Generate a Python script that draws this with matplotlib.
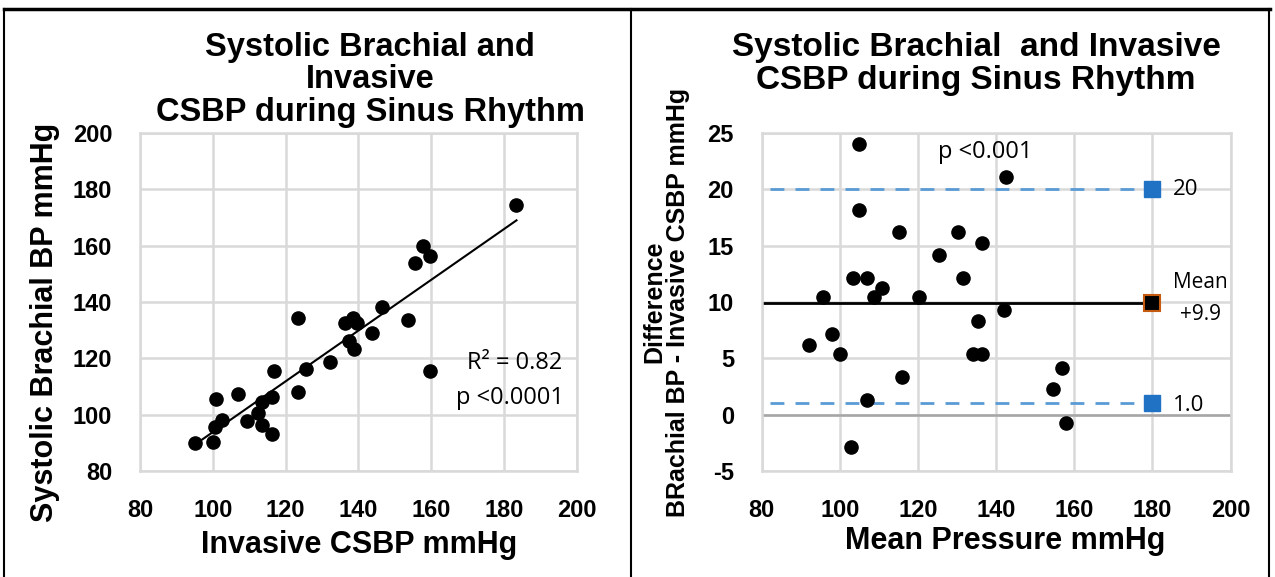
import matplotlib
matplotlib.use('Agg')
import matplotlib.pyplot as plt
import numpy as np
from matplotlib.lines import Line2D

plt.rcParams['font.family'] = ['Liberation Sans', 'DejaVu Sans']
plt.rcParams['axes.unicode_minus'] = False

# left panel: invasive CSBP vs brachial BP
csbp = [183.4, 157.8, 159.6, 155.6, 146.4, 153.7, 123.3, 136.3, 138.6, 139.5,
        143.8, 137.4, 138.8, 132.2, 125.5, 116.9, 159.6, 123.3, 107.0, 100.8,
        116.2, 113.4, 112.3, 102.4, 109.3, 100.6, 113.4, 116.2, 100.1, 95.1]
brachial = [174.4, 159.9, 156.3, 154.0, 138.1, 133.6, 134.2, 132.7, 134.2, 132.7,
            128.9, 126.3, 123.2, 118.8, 116.1, 115.5, 115.6, 108.2, 107.2, 105.6,
            106.2, 104.6, 100.5, 98.1, 97.9, 95.5, 96.3, 93.1, 90.4, 90.1]

# right panel: Bland-Altman
mean_p = [104.9, 142.5, 104.9, 115.2, 130.2, 136.3, 125.5, 103.3, 106.9, 131.4,
          110.9, 95.8, 108.8, 120.3, 142.1, 135.4, 98.1, 92.1, 100.0, 134.2,
          136.5, 156.9, 116.0, 154.5, 106.9, 157.8, 102.9]
diff = [24.0, 21.1, 18.2, 16.2, 16.2, 15.2, 14.2, 12.1, 12.1, 12.1,
        11.2, 10.4, 10.4, 10.4, 9.25, 8.3, 7.16, 6.22, 5.37, 5.37,
        5.37, 4.16, 3.34, 2.25, 1.28, -0.78, -2.83]
mean_diff = 9.9
upper_loa = 20
lower_loa = 1.0

x_ticks = [80, 100, 120, 140, 160, 180, 200]
left_yticks = [80, 100, 120, 140, 160, 180, 200]
right_yticks = [-5, 0, 5, 10, 15, 20, 25]

grid_c = '#d9d9d9'
blue = '#1f72c4'
W, H = 1275, 577

fig = plt.figure(figsize=(12.75, 5.77), dpi=100)
ax1 = fig.add_axes([0.1098, 0.1837, 0.3427, 0.5858])
ax2 = fig.add_axes([0.5974, 0.1837, 0.3678, 0.5858])

ax1.set_ylim(80, 200)
ax1.set_yticks(left_yticks)
ax2.set_ylim(-5, 25)
ax2.set_yticks(right_yticks)

for ax in (ax1, ax2):
    ax.set_xlim(80, 200)
    ax.set_xticks(x_ticks)
    ax.grid(True, color=grid_c, linewidth=1.8)
    ax.set_axisbelow(True)
    for s in ax.spines.values():
        s.set_color(grid_c)
        s.set_linewidth(1.8)
    ax.tick_params(length=0, labelsize=17)
    ax.tick_params(axis='y', pad=20)
    ax.tick_params(axis='x', pad=20)
    for lab in ax.get_xticklabels() + ax.get_yticklabels():
        lab.set_fontweight('bold')

# left
ax1.scatter(csbp, brachial, s=90, color='black', zorder=3)
k, b = np.polyfit(csbp, brachial, 1)
xl = np.array([min(csbp) + 2, max(csbp)])
ax1.plot(xl, k * xl + b, color='black', linewidth=1.5, zorder=2)
ax1.text(183, 118.5, 'R² = 0.82', fontsize=17, ha='center', va='center', family='Open Sans')
ax1.text(181.5, 106, 'p <0.0001', fontsize=17, ha='center', va='center', family='Open Sans')

# right
ax2.axhline(0, color='#a6a6a6', linewidth=1.8, zorder=1)
ax2.scatter(mean_p, diff, s=90, color='black', zorder=3)
ax2.plot([80, 180], [mean_diff, mean_diff], color='black', linewidth=2, zorder=2)
ax2.plot([82, 180], [upper_loa, upper_loa], color='#5b9bd5', linewidth=2,
         dashes=(5, 4), zorder=2)
ax2.plot([82, 180], [lower_loa, lower_loa], color='#5b9bd5', linewidth=2,
         dashes=(5, 4), zorder=2)
ax2.plot([180, 180], [upper_loa, lower_loa], linestyle='none', marker='s',
         markersize=12, color=blue, zorder=4)
ax2.plot([180], [mean_diff], linestyle='none', marker='s', markersize=12,
         markerfacecolor='black', markeredgecolor='#c55a11', markeredgewidth=1.5, zorder=4)
ax2.text(185.3, upper_loa, '20', fontsize=16, ha='left', va='center', family='Open Sans')
ax2.text(185.3, lower_loa - 0.2, '1.0', fontsize=16, ha='left', va='center', family='Open Sans')
ax2.text(192.3, mean_diff + 1.8, 'Mean', fontsize=15, ha='center', va='center', family='Open Sans')
ax2.text(192.3, mean_diff - 1.0, '+9.9', fontsize=15, ha='center', va='center', family='Open Sans')
ax2.text(137.1, 23.35, 'p <0.001', fontsize=17, ha='center', va='center', family='Open Sans')

# titles and axis labels
fig.text(370 / W, 1 - 80 / H, 'Systolic Brachial and\nInvasive\nCSBP during Sinus Rhythm',
         fontsize=23.5, fontweight='bold', ha='center', va='center', linespacing=1.05)
fig.text(976 / W, 1 - 64 / H, 'Systolic Brachial  and Invasive\nCSBP during Sinus Rhythm',
         fontsize=24, fontweight='bold', ha='center', va='center', linespacing=1.05)
fig.text(359 / W, 1 - 545 / H, 'Invasive CSBP mmHg', fontsize=22, fontweight='bold',
         ha='center', va='center')
fig.text(1005 / W, 1 - 541 / H, 'Mean Pressure mmHg', fontsize=22, fontweight='bold',
         ha='center', va='center')
fig.text(45 / W, 1 - 322 / H, 'Systolic Brachial BP mmHg', fontsize=22, fontweight='bold',
         ha='center', va='center', rotation=90)
fig.text(666 / W, 1 - 302 / H, 'Difference\nBRachial BP - Invasive CSBP mmHg', fontsize=18,
         fontweight='bold', ha='center', va='center', rotation=90, linespacing=1.0)

# outer frame
fig.add_artist(Line2D([4 / W, 1270 / W], [1 - 9 / H, 1 - 9 / H],
                      transform=fig.transFigure, color='black', linewidth=2.5))
for xp in (4, 631, 1269):
    fig.add_artist(Line2D([xp / W, xp / W], [0, 1 - 9 / H],
                          transform=fig.transFigure, color='black', linewidth=1.5))

fig.savefig('out.png', dpi=100)
